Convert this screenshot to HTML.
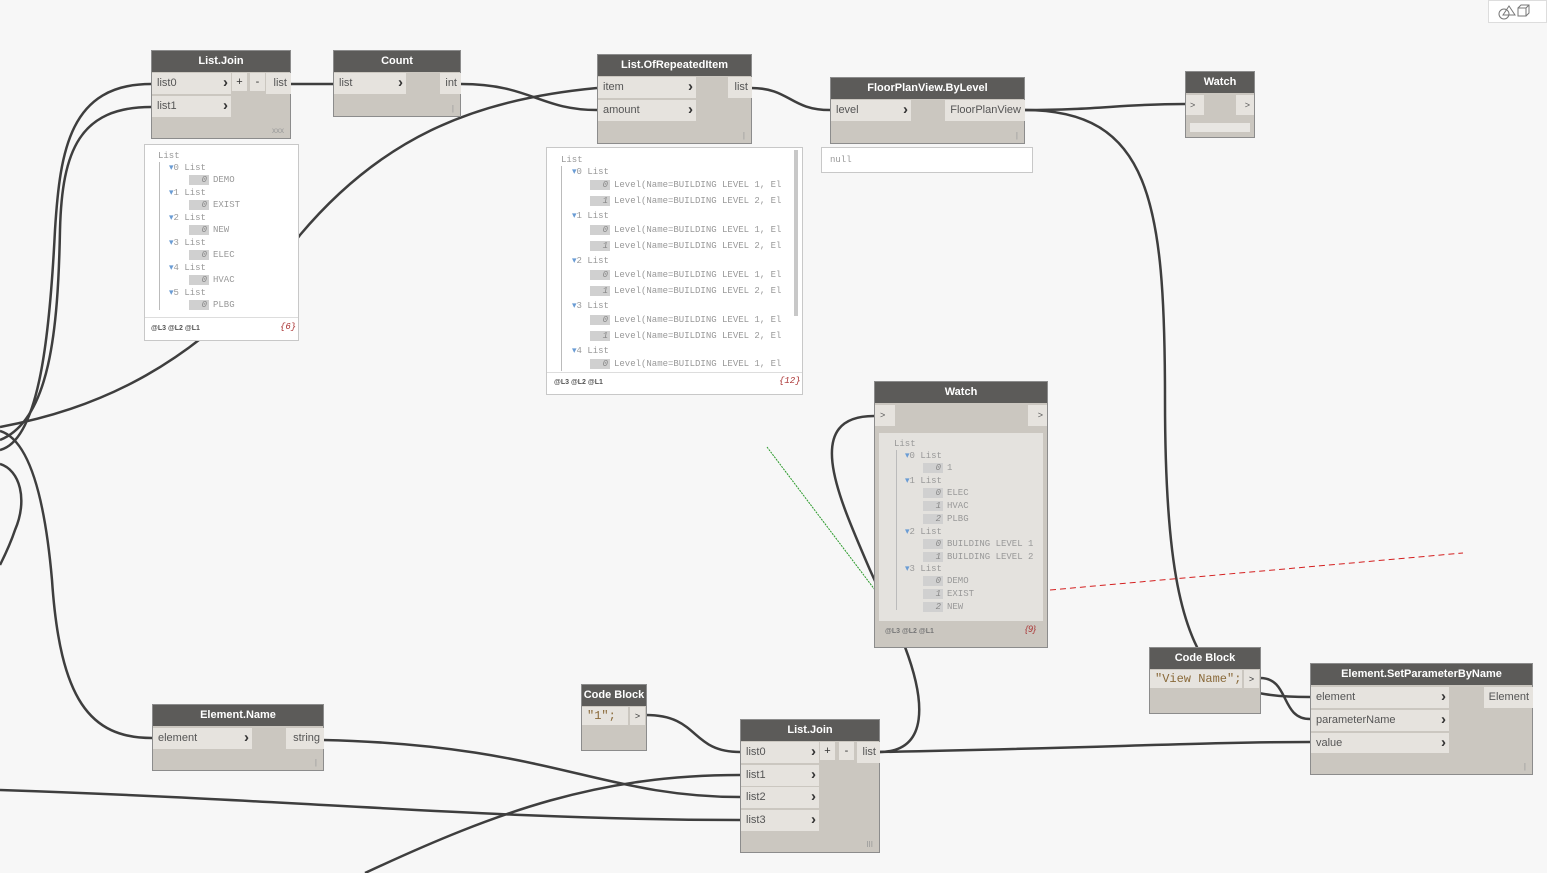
<!DOCTYPE html>
<html><head><meta charset="utf-8"><style>
body{margin:0;width:1547px;height:873px;background:#f7f7f7;position:relative;overflow:hidden;font-family:"Liberation Sans",sans-serif;}
.n{position:absolute;background:#cbc7c0;border:1px solid #8c8c8c;box-sizing:border-box;}
.h{position:absolute;left:0;top:0;right:0;height:21px;background:#5c5b59;color:#fff;font-weight:bold;font-size:11px;text-align:center;line-height:20px;}
.p{position:absolute;background:#e6e3de;font-size:11px;color:#555;line-height:21px;padding-left:5px;box-sizing:border-box;}
.a{position:absolute;right:3px;top:-1px;font-weight:bold;color:#333;font-size:15px;}
.o{position:absolute;background:#e6e3de;font-size:11px;color:#555;line-height:21px;text-align:right;padding-right:4px;box-sizing:border-box;}
.b{position:absolute;background:#e6e3de;font-size:11px;color:#333;line-height:18px;text-align:center;}
.ft{position:absolute;right:6px;bottom:3px;font-size:8px;color:#999;}
.pv{position:absolute;background:#fff;border:1px solid #c8c8c8;box-sizing:border-box;font-family:"Liberation Mono",monospace;font-size:9px;color:#999;}
.pv div{position:absolute;white-space:nowrap;}
.ix{display:inline-block;background:#d0d0d0;color:#888;width:18px;text-align:right;padding-right:2px;margin-right:4px;font-style:italic;}
.lv{position:absolute;font-size:7px;color:#555;font-family:"Liberation Sans",sans-serif;font-weight:bold;}
.cnt{position:absolute;font-size:9px;color:#a33;font-style:italic;}
.vl{position:absolute;width:1px;background:#bbb;}
.tr{color:#6a9cd4;}
</style></head><body>

<svg width="1547" height="873" style="position:absolute;left:0;top:0" fill="none" stroke="#3e3e3e" stroke-width="2.5">
<path d="M0,450 C40,440 50,330 55,230 C60,150 70,84 151,84"/>
<path d="M0,440 C50,420 58,330 60,230 C62,150 80,107 151,107"/>
<path d="M0,427 C90,410 200,370 300,235 C380,140 470,100 597,88"/>
<path d="M0,464 C20,470 28,500 15,530 C10,545 5,555 0,565"/>
<path d="M0,431 C30,440 45,500 52,580 C60,700 90,738 152,738"/>
<path d="M291,84 L333,84"/>
<path d="M461,84 C530,84 540,110 597,110"/>
<path d="M751,88 C790,88 790,110 830,110"/>
<path d="M1024,110 C1100,110 1120,104 1185,104"/>
<path d="M1024,110 C1150,110 1165,200 1165,400 C1165,560 1180,640 1220,680 C1250,695 1280,697 1310,697"/>
<path d="M1260,678 C1290,678 1280,719 1310,719"/>
<path d="M879,752 C930,752 925,700 905,647 L870,570 C840,500 800,416 874,416"/>
<path d="M879,752 C1100,748 1200,742 1310,742"/>
<path d="M646,715 C700,715 690,752 740,752"/>
<path d="M323,740 C550,745 600,797 740,797"/>
<path d="M0,790 C300,800 500,820 740,820"/>
<path d="M365,873 C500,810 600,775 740,775"/>
<path d="M767,447 L875,590" stroke="#2a9a2a" stroke-width="1" stroke-dasharray="2,1"/>
<path d="M1050,590 L1463,553" stroke="#d42020" stroke-width="1" stroke-dasharray="6,4"/>
</svg>

<div style="position:absolute;left:1488px;top:0;width:59px;height:23px;background:#fff;border:1px solid #ddd;box-sizing:border-box;">
<svg width="59" height="23" style="position:absolute;left:0;top:0" fill="none" stroke="#777" stroke-width="1"><circle cx="15" cy="13" r="5"/><path d="M14,14 L20,5 L26,14 Z"/><rect x="29" y="7" width="8" height="8"/><path d="M29,7 L32,4 L40,4 L40,12 L37,15 M37,7 L40,4"/></svg></div>

<!-- List.Join top -->
<div class="n" style="left:151px;top:50px;width:140px;height:89px"><div class="h">List.Join</div>
<div class="p" style="left:0;top:22px;width:79px;height:21px">list0<span class="a">›</span></div>
<div class="p" style="left:0;top:45px;width:79px;height:21px">list1<span class="a">›</span></div>
<div class="b" style="left:80px;top:22px;width:15px">+</div><div class="b" style="left:98px;top:22px;width:15px">-</div>
<div class="o" style="left:114px;top:22px;width:25px;height:21px">list</div><div class="ft">xxx</div></div>

<div class="pv" style="left:144px;top:144px;width:155px;height:197px">
<div style="left:13px;top:6px">List</div>
<div class="vl" style="left:14px;top:17px;height:148px"></div>
<div style="left:24px;top:18px"><span class="tr">▾</span>0 List</div><div style="left:44px;top:30px"><span class="ix">0</span>DEMO</div>
<div style="left:24px;top:43px"><span class="tr">▾</span>1 List</div><div style="left:44px;top:55px"><span class="ix">0</span>EXIST</div>
<div style="left:24px;top:68px"><span class="tr">▾</span>2 List</div><div style="left:44px;top:80px"><span class="ix">0</span>NEW</div>
<div style="left:24px;top:93px"><span class="tr">▾</span>3 List</div><div style="left:44px;top:105px"><span class="ix">0</span>ELEC</div>
<div style="left:24px;top:118px"><span class="tr">▾</span>4 List</div><div style="left:44px;top:130px"><span class="ix">0</span>HVAC</div>
<div style="left:24px;top:143px"><span class="tr">▾</span>5 List</div><div style="left:44px;top:155px"><span class="ix">0</span>PLBG</div>
<div style="left:0;top:172px;width:153px;height:1px;background:#ddd"></div>
<div class="lv" style="left:6px;top:180px">@L3 @L2 @L1</div><div class="cnt" style="left:135px;top:177px">{6}</div></div>

<!-- Count -->
<div class="n" style="left:333px;top:50px;width:128px;height:67px"><div class="h">Count</div>
<div class="p" style="left:0;top:22px;width:72px;height:21px">list<span class="a">›</span></div>
<div class="o" style="left:106px;top:22px;width:21px;height:21px">int</div><div class="ft">|</div></div>

<!-- List.OfRepeatedItem -->
<div class="n" style="left:597px;top:54px;width:155px;height:90px"><div class="h">List.OfRepeatedItem</div>
<div class="p" style="left:0;top:22px;width:98px;height:21px">item<span class="a">›</span></div>
<div class="p" style="left:0;top:45px;width:98px;height:21px">amount<span class="a">›</span></div>
<div class="o" style="left:130px;top:22px;width:24px;height:21px">list</div><div class="ft">|</div></div>

<div class="pv" style="left:546px;top:147px;width:257px;height:248px">
<div style="left:247px;top:2px;width:4px;height:166px;background:#c8c8c8"></div>
<div style="left:14px;top:7px">List</div>
<div class="vl" style="left:14px;top:18px;height:205px"></div>
<div style="left:25px;top:19px"><span class="tr">▾</span>0 List</div>
<div style="left:43px;top:32px"><span class="ix">0</span>Level(Name=BUILDING LEVEL 1, El</div>
<div style="left:43px;top:48px"><span class="ix">1</span>Level(Name=BUILDING LEVEL 2, El</div>
<div style="left:25px;top:63px"><span class="tr">▾</span>1 List</div>
<div style="left:43px;top:77px"><span class="ix">0</span>Level(Name=BUILDING LEVEL 1, El</div>
<div style="left:43px;top:93px"><span class="ix">1</span>Level(Name=BUILDING LEVEL 2, El</div>
<div style="left:25px;top:108px"><span class="tr">▾</span>2 List</div>
<div style="left:43px;top:122px"><span class="ix">0</span>Level(Name=BUILDING LEVEL 1, El</div>
<div style="left:43px;top:138px"><span class="ix">1</span>Level(Name=BUILDING LEVEL 2, El</div>
<div style="left:25px;top:153px"><span class="tr">▾</span>3 List</div>
<div style="left:43px;top:167px"><span class="ix">0</span>Level(Name=BUILDING LEVEL 1, El</div>
<div style="left:43px;top:183px"><span class="ix">1</span>Level(Name=BUILDING LEVEL 2, El</div>
<div style="left:25px;top:198px"><span class="tr">▾</span>4 List</div>
<div style="left:43px;top:211px"><span class="ix">0</span>Level(Name=BUILDING LEVEL 1, El</div>
<div style="left:0;top:224px;width:255px;height:1px;background:#ddd"></div>
<div class="lv" style="left:7px;top:231px">@L3 @L2 @L1</div><div class="cnt" style="left:232px;top:228px">{12}</div></div>

<!-- FloorPlanView -->
<div class="n" style="left:830px;top:77px;width:195px;height:67px"><div class="h">FloorPlanView.ByLevel</div>
<div class="p" style="left:0;top:22px;width:80px;height:21px">level<span class="a">›</span></div>
<div class="o" style="left:114px;top:22px;width:80px;height:21px">FloorPlanView</div><div class="ft">|</div></div>
<div class="pv" style="left:821px;top:147px;width:212px;height:26px"><div style="left:8px;top:7px">null</div></div>

<!-- Watch top -->
<div class="n" style="left:1185px;top:71px;width:70px;height:67px"><div class="h">Watch</div>
<div class="p" style="left:0;top:23px;width:18px;height:20px;font-size:9px;padding-left:4px">&gt;</div>
<div class="o" style="left:50px;top:23px;width:18px;height:20px;font-size:9px">&gt;</div>
<div style="position:absolute;left:4px;top:51px;width:60px;height:9px;background:#e8e6e2"></div></div>

<!-- Watch middle -->
<div class="n" style="left:874px;top:381px;width:174px;height:267px"><div class="h">Watch</div>
<div class="p" style="left:0;top:23px;width:20px;height:21px;font-size:9px">&gt;</div>
<div class="o" style="left:153px;top:23px;width:19px;height:21px;font-size:9px">&gt;</div>
<div class="pv" style="left:4px;top:51px;width:164px;height:188px;background:#e4e2de;border:none;">
<div style="left:15px;top:6px">List</div>
<div class="vl" style="left:17px;top:17px;height:160px"></div>
<div style="left:26px;top:18px"><span class="tr">▾</span>0 List</div><div style="left:44px;top:30px"><span class="ix">0</span>1</div>
<div style="left:26px;top:43px"><span class="tr">▾</span>1 List</div>
<div style="left:44px;top:55px"><span class="ix">0</span>ELEC</div><div style="left:44px;top:68px"><span class="ix">1</span>HVAC</div><div style="left:44px;top:81px"><span class="ix">2</span>PLBG</div>
<div style="left:26px;top:94px"><span class="tr">▾</span>2 List</div>
<div style="left:44px;top:106px"><span class="ix">0</span>BUILDING LEVEL 1</div><div style="left:44px;top:119px"><span class="ix">1</span>BUILDING LEVEL 2</div>
<div style="left:26px;top:131px"><span class="tr">▾</span>3 List</div>
<div style="left:44px;top:143px"><span class="ix">0</span>DEMO</div><div style="left:44px;top:156px"><span class="ix">1</span>EXIST</div><div style="left:44px;top:169px"><span class="ix">2</span>NEW</div></div>
<div class="lv" style="left:10px;top:246px;color:#777">@L3 @L2 @L1</div><div class="cnt" style="left:150px;top:242px">{9}</div></div>

<!-- Code Block right -->
<div class="n" style="left:1149px;top:647px;width:112px;height:67px"><div class="h">Code Block</div>
<div class="p" style="left:0;top:22px;width:92px;height:18px;font-family:'Liberation Mono',monospace;font-size:12px;line-height:18px;color:#8a6a3a">"View Name";</div>
<div class="b" style="left:94px;top:22px;width:15px;font-size:9px">&gt;</div></div>

<!-- SetParameterByName -->
<div class="n" style="left:1310px;top:663px;width:223px;height:112px"><div class="h">Element.SetParameterByName</div>
<div class="p" style="left:0;top:23px;width:138px;height:21px">element<span class="a">›</span></div>
<div class="p" style="left:0;top:46px;width:138px;height:21px">parameterName<span class="a">›</span></div>
<div class="p" style="left:0;top:69px;width:138px;height:20px">value<span class="a">›</span></div>
<div class="o" style="left:173px;top:23px;width:49px;height:21px">Element</div><div class="ft">|</div></div>

<!-- Element.Name -->
<div class="n" style="left:152px;top:704px;width:172px;height:67px"><div class="h">Element.Name</div>
<div class="p" style="left:0;top:23px;width:99px;height:21px">element<span class="a">›</span></div>
<div class="o" style="left:133px;top:23px;width:38px;height:21px">string</div><div class="ft">|</div></div>

<!-- Code Block "1" -->
<div class="n" style="left:581px;top:684px;width:66px;height:67px"><div class="h">Code Block</div>
<div class="p" style="left:0;top:22px;width:46px;height:18px;font-family:'Liberation Mono',monospace;font-size:12px;line-height:18px;color:#8a6a3a">"1";</div>
<div class="b" style="left:48px;top:22px;width:15px;font-size:9px">&gt;</div></div>

<!-- List.Join bottom -->
<div class="n" style="left:740px;top:719px;width:140px;height:134px"><div class="h">List.Join</div>
<div class="p" style="left:0;top:22px;width:78px;height:21px">list0<span class="a">›</span></div>
<div class="p" style="left:0;top:45px;width:78px;height:21px">list1<span class="a">›</span></div>
<div class="p" style="left:0;top:67px;width:78px;height:21px">list2<span class="a">›</span></div>
<div class="p" style="left:0;top:90px;width:78px;height:21px">list3<span class="a">›</span></div>
<div class="b" style="left:79px;top:22px;width:15px">+</div><div class="b" style="left:98px;top:22px;width:15px">-</div>
<div class="o" style="left:116px;top:22px;width:23px;height:21px">list</div><div class="ft">III</div></div>

</body></html>
